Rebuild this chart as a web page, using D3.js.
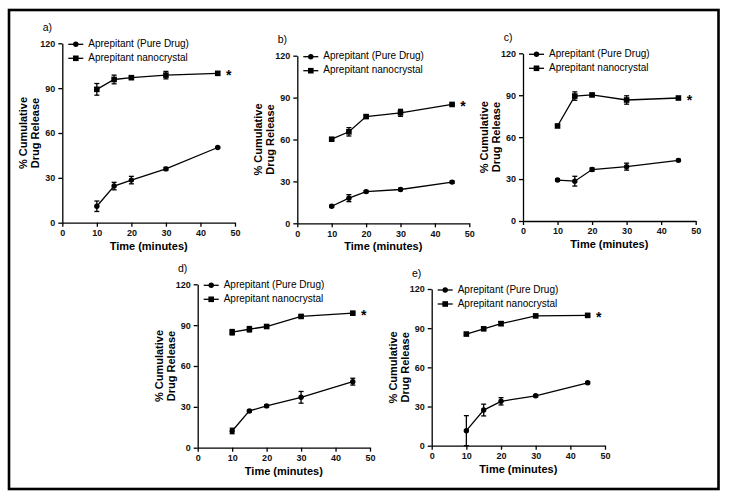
<!DOCTYPE html>
<html><head><meta charset="utf-8">
<script src="https://cdn.jsdelivr.net/npm/d3@7"></script>
<style>body{margin:0;background:#fff}</style>
</head><body><svg id="c" width="733" height="499"></svg>
<script>
// ---- data ----
const times = [10, 15, 20, 30, 45];
const xTicks = [0, 10, 20, 30, 40, 50];
const yTicks = [0, 30, 60, 90, 120];
const seriesNames = ["Aprepitant (Pure Drug)", "Aprepitant nanocrystal"];
const panelLabels = ["a)", "b)", "c)", "d)", "e)"];
const xTitle = "Time (minutes)";
const yTitle = ["% Cumulative", "Drug Release"];
const pureMeans = [
  [11, 24.5, 28.5, 36, 50.3],
  [12.2, 18, 22.7, 24.2, 29.5],
  [29.3, 28.5, 36.8, 38.9, 43.4],
  [12.3, 27, 30.7, 37, 48.5],
  [11.5, 27.3, 34, 38.2, 48.2]
];
const pureErrs = [
  [3.5, 2.5, 2.5, 1, 0.5],
  [0.8, 2.5, 0.8, 0.8, 0.8],
  [0.8, 3.5, 1.2, 2.5, 0.8],
  [2, 0.8, 0.8, 4.3, 2.5],
  [11.5, 4.5, 2.8, 0.8, 0.8]
];
const nanoMeans = [
  [89.2, 95.8, 97, 98.7, 99.9],
  [60.2, 65.5, 76.4, 79.1, 85.1],
  [68, 89.4, 90.2, 86.6, 88],
  [84.8, 87, 89, 96.4, 98.8],
  [85.5, 89.5, 93.5, 99.4, 99.8]
];
const nanoErrs = [
  [3.9, 2.9, 1, 2.5, 1],
  [0.8, 3, 1, 2.5, 0.8],
  [0.8, 3, 1, 3, 0.8],
  [2, 2, 1, 0.8, 0.8],
  [0.8, 0.8, 1.5, 0.8, 0.8]
];

// ---- layout (pixel boxes of each plot) ----
const boxes = [
  {left: 62.3, right: 235, bottom: 222.7, top: 43.3},
  {left: 297.3, right: 469.3, bottom: 223.3, top: 55.7},
  {left: 523, right: 695.7, bottom: 221, top: 53.3},
  {left: 197.7, right: 370, bottom: 447.7, top: 284.3},
  {left: 431.7, right: 605, bottom: 445.7, top: 289}
];

const svg = d3.select("#c");
const FONT = "'Liberation Sans', Arial, sans-serif";

svg.append("rect").attr("x", 9).attr("y", 10).attr("width", 709.5).attr("height", 479)
  .attr("fill", "none").attr("stroke", "#000").attr("stroke-width", 2.6);

function marker(g, type, x, y) {
  if (type === "circle") {
    g.append("circle").attr("cx", x).attr("cy", y).attr("r", 2.7).attr("fill", "#000");
  } else {
    g.append("rect").attr("x", x - 2.8).attr("y", y - 2.8).attr("width", 5.6).attr("height", 5.6).attr("fill", "#000");
  }
}

boxes.forEach((b, i) => {
  const x = d3.scaleLinear().domain([0, 50]).range([b.left, b.right]);
  const y = d3.scaleLinear().domain([0, 120]).range([b.bottom, b.top]);
  const g = svg.append("g");

  const xa = g.append("g").attr("transform", `translate(0,${b.bottom})`)
    .call(d3.axisBottom(x).tickValues(xTicks).tickSize(4).tickSizeOuter(0).tickPadding(3));
  const ya = g.append("g").attr("transform", `translate(${b.left},0)`)
    .call(d3.axisLeft(y).tickValues(yTicks).tickSize(4).tickSizeOuter(0).tickPadding(3));
  [xa, ya].forEach(a => {
    a.selectAll("path,line").attr("stroke", "#000").attr("stroke-width", 1.3);
    a.selectAll("text").attr("font-family", FONT).attr("font-weight", "bold")
      .attr("font-size", 9).attr("fill", "#111");
  });

  // titles
  g.append("text").attr("x", (b.left + b.right) / 2).attr("y", b.bottom + 24)
    .attr("text-anchor", "middle").attr("dominant-baseline", "middle")
    .attr("font-family", FONT).attr("font-weight", "bold").attr("font-size", 11)
    .text(xTitle);
  const cy = (b.top + b.bottom) / 2;
  yTitle.forEach((t, k) => {
    g.append("text").attr("transform", `translate(${b.left - 38 + k * 12},${cy}) rotate(-90)`)
      .attr("text-anchor", "middle").attr("dominant-baseline", "middle")
      .attr("font-family", FONT).attr("font-weight", "bold").attr("font-size", 11)
      .text(t);
  });
  g.append("text").attr("x", b.left - 15).attr("y", b.top - 15)
    .attr("text-anchor", "middle").attr("dominant-baseline", "middle")
    .attr("font-family", FONT).attr("font-size", 10.5).text(panelLabels[i]);

  // series
  const series = [
    {means: pureMeans[i], errs: pureErrs[i], type: "circle"},
    {means: nanoMeans[i], errs: nanoErrs[i], type: "square"}
  ];
  series.forEach(s => {
    const pts = times.map((t, j) => [x(t), y(s.means[j])]);
    g.append("path").attr("d", d3.line()(pts)).attr("fill", "none")
      .attr("stroke", "#000").attr("stroke-width", 1.3);
    times.forEach((t, j) => {
      const hi = y(s.means[j] + s.errs[j]), lo = y(Math.max(0, s.means[j] - s.errs[j]));
      const xx = x(t);
      g.append("line").attr("x1", xx).attr("x2", xx).attr("y1", hi).attr("y2", lo)
        .attr("stroke", "#000").attr("stroke-width", 1.3);
      [hi, lo].forEach(v => g.append("line").attr("x1", xx - 2.5).attr("x2", xx + 2.5)
        .attr("y1", v).attr("y2", v).attr("stroke", "#000").attr("stroke-width", 1.3));
      marker(g, s.type, xx, y(s.means[j]));
    });
  });

  // significance asterisk
  g.append("text").attr("x", x(45) + 11).attr("y", y(nanoMeans[i][4]) + 7)
    .attr("text-anchor", "middle").attr("font-family", FONT).attr("font-weight", "bold")
    .attr("font-size", 14).text("*");

  // legend
  series.forEach((s, k) => {
    const ly = b.top + 1 + k * 14;
    g.append("line").attr("x1", b.left + 6).attr("x2", b.left + 21).attr("y1", ly).attr("y2", ly)
      .attr("stroke", "#000").attr("stroke-width", 1.3);
    marker(g, s.type, b.left + 13.5, ly);
    g.append("text").attr("x", b.left + 26).attr("y", ly).attr("dominant-baseline", "middle")
      .attr("font-family", FONT).attr("font-size", 10).text(seriesNames[k]);
  });
});
</script>
</body></html>
